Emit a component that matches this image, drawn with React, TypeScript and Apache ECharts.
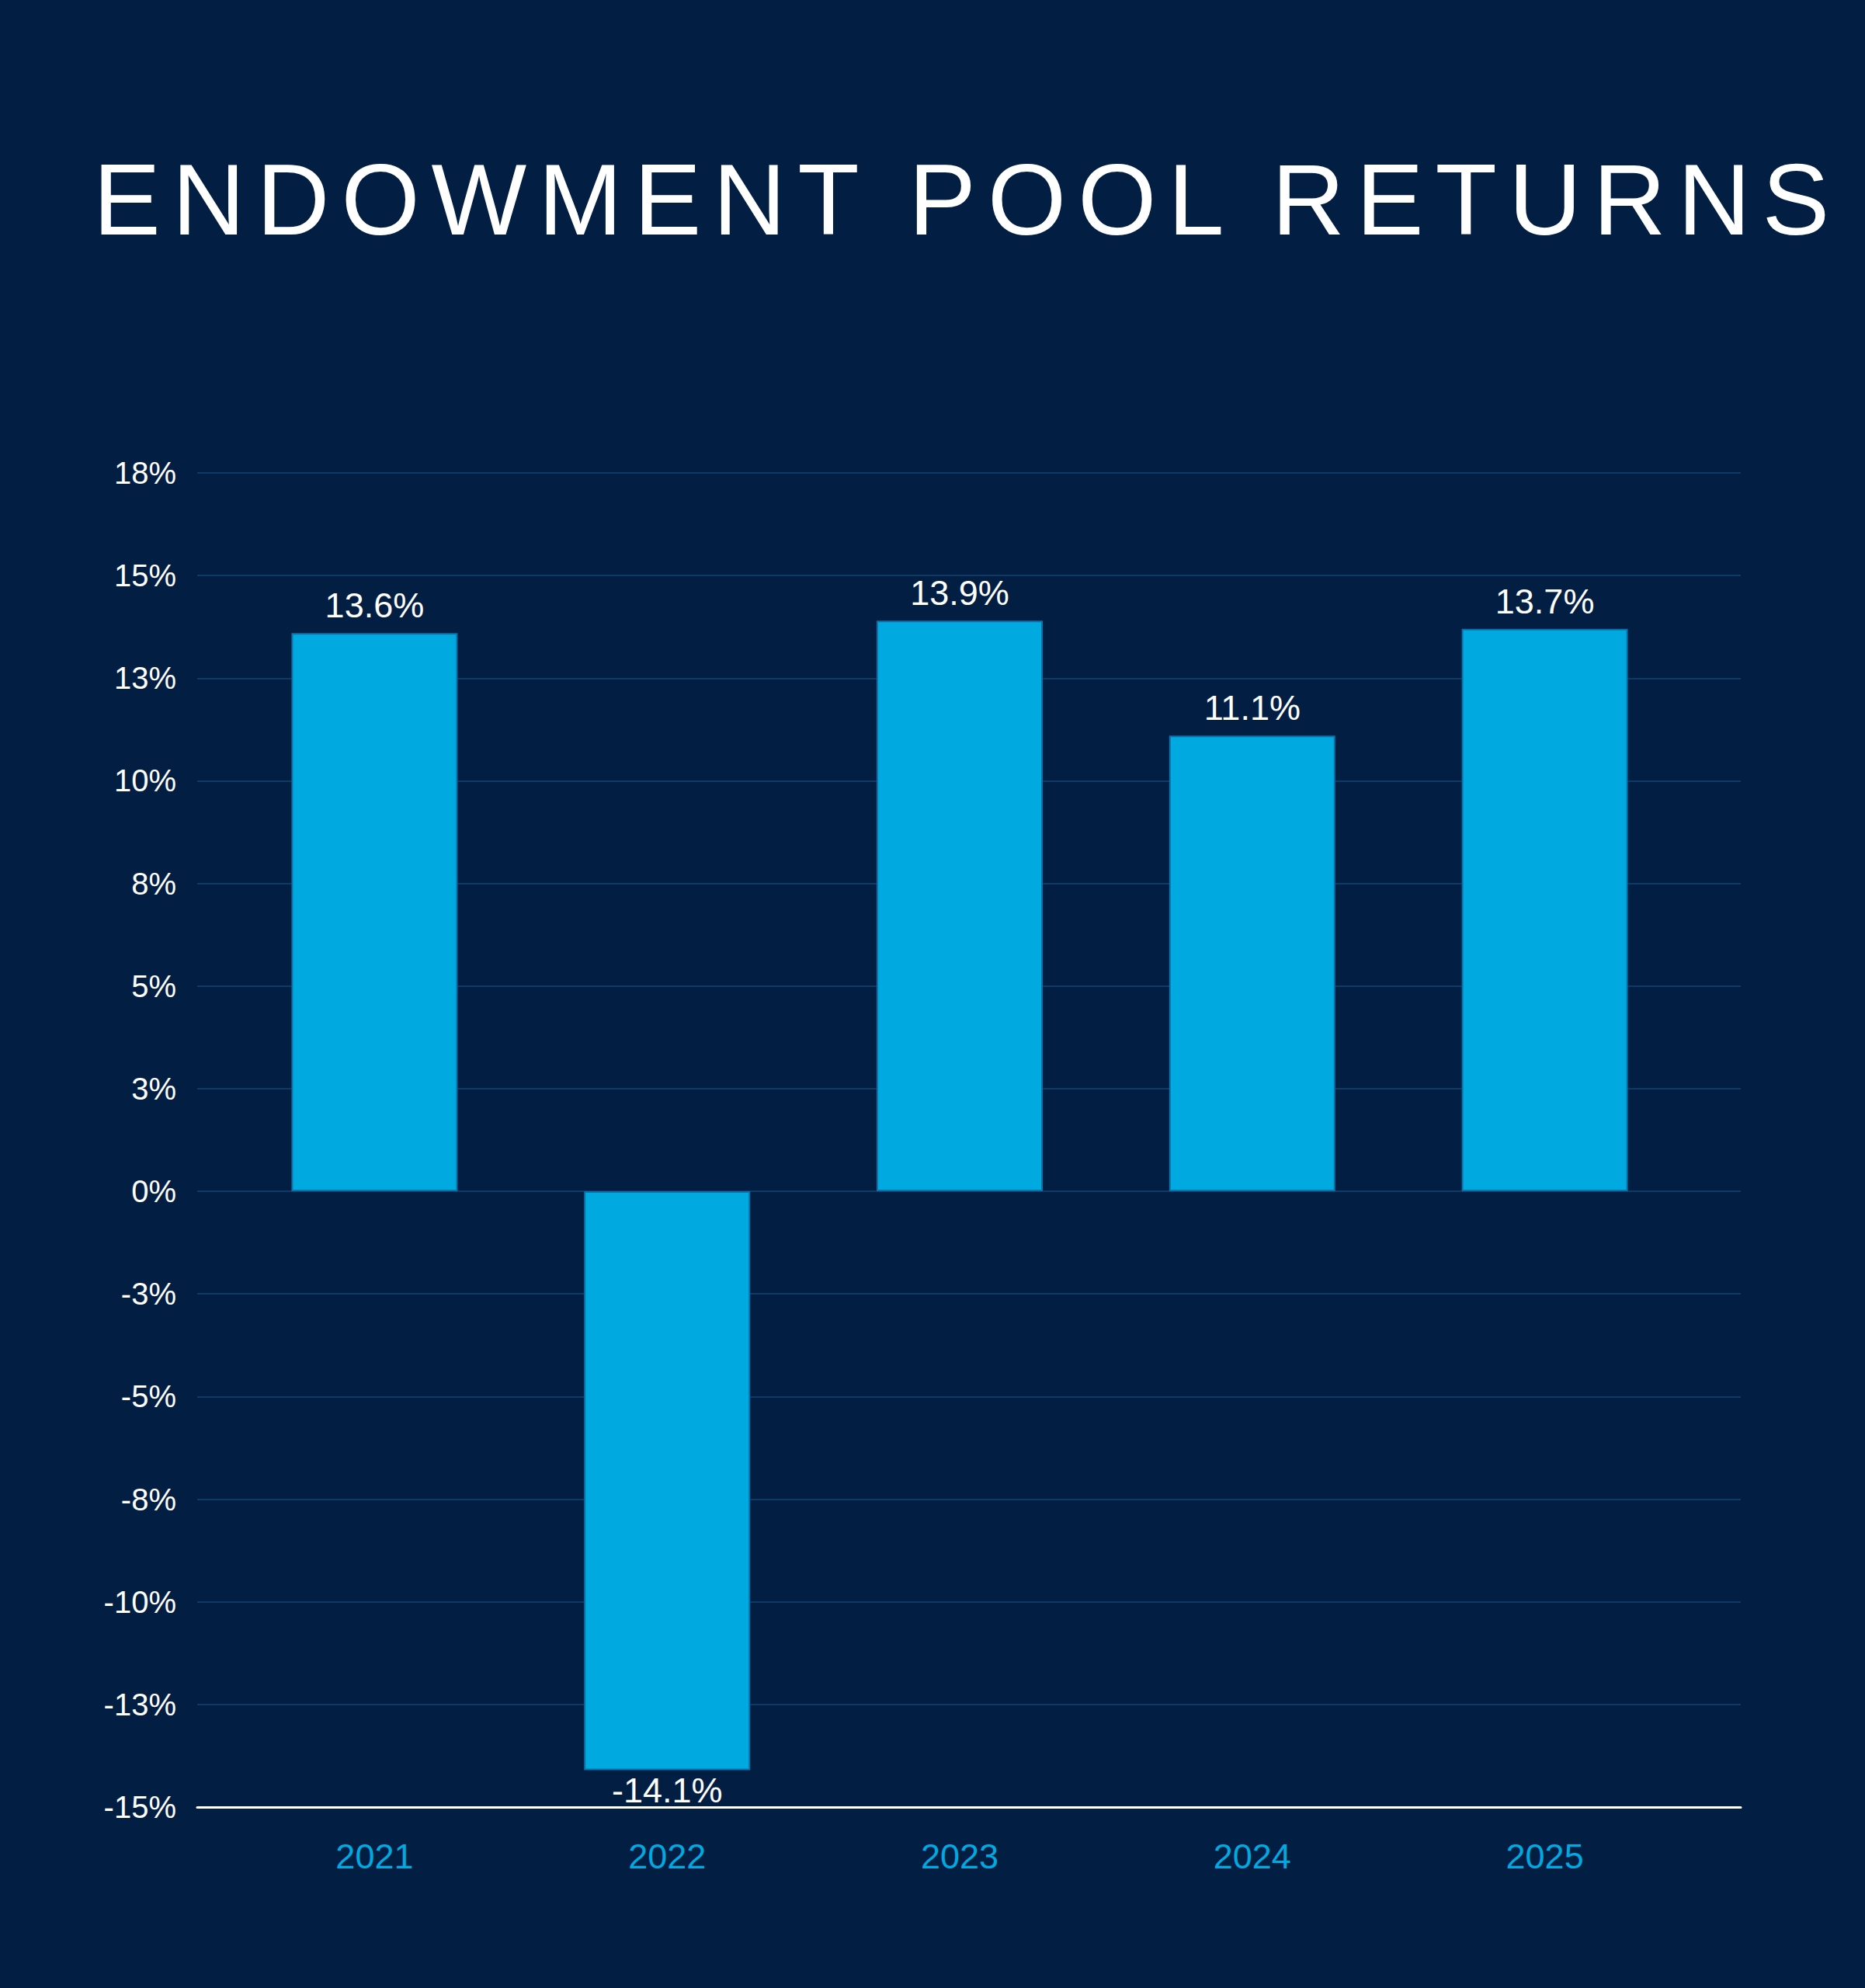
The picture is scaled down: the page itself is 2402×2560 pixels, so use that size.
import React, { useEffect, useRef } from "react";
import * as echarts from "echarts";

type EChartsOption = echarts.EChartsOption;

// Fiscal years and endowment pool returns (%)
const years = ["2021", "2022", "2023", "2024", "2025"];
const returns = [13.6, -14.1, 13.9, 11.1, 13.7];

// Value axis range, ticks every 2.5%
const axisMin = -15;
const axisMax = 17.5;
const axisStep = 2.5;

const NAVY = "#021E42";
const CYAN = "#00AAE0";
const GRID_LINE = "#0B3B66";
const FONT = "'Liberation Sans', Arial, Helvetica, sans-serif";

// tick labels are rounded half away from zero (2.5 -> 3, -2.5 -> -3)
const tickLabel = (v: number) => {
  const r = Math.sign(v) * Math.round(Math.abs(v));
  return `${r === 0 ? 0 : r}%`;
};

const ReturnsChart: React.FC = () => {
  const chartRef = useRef<HTMLDivElement>(null);

  useEffect(() => {
    if (!chartRef.current) return;
    const myChart = echarts.init(chartRef.current, undefined, { renderer: "svg" });

    const option: EChartsOption = {
      animation: false,
      backgroundColor: NAVY,
      textStyle: { fontFamily: FONT },
      grid: [
        // grid 0: gridlines, y labels and the white baseline
        { left: 254, right: 160, top: 609, bottom: 233 },
        // grid 1: the bars, a little narrower so the columns sit like the original
        { left: 294, right: 224, top: 609, bottom: 233 },
      ],
      xAxis: [
        {
          type: "value",
          gridIndex: 0,
          min: 0,
          max: 1,
          axisLabel: { show: false },
          axisTick: { show: false },
          splitLine: { show: false },
          axisLine: {
            show: true,
            onZero: false,
            lineStyle: { color: "#FFFFFF", width: 3 },
          },
        },
        {
          type: "category",
          gridIndex: 1,
          data: years,
          axisLine: { show: false },
          axisTick: { show: false },
          axisLabel: {
            color: CYAN,
            fontSize: 45,
            margin: 41,
          },
        },
      ],
      yAxis: [
        {
          type: "value",
          gridIndex: 0,
          min: axisMin,
          max: axisMax,
          interval: axisStep,
          axisLine: { show: false },
          axisTick: { show: false },
          axisLabel: {
            color: "#FFFFFF",
            fontSize: 40,
            margin: 27,
            formatter: (v: number) => tickLabel(v),
          },
          splitLine: { lineStyle: { color: GRID_LINE, width: 2 } },
        },
        {
          type: "value",
          gridIndex: 1,
          min: axisMin,
          max: axisMax,
          interval: axisStep,
          show: false,
          splitLine: { show: false },
        },
      ],
      series: [
        {
          type: "bar",
          xAxisIndex: 1,
          yAxisIndex: 1,
          barWidth: 214,
          data: returns.map((v) =>
            v < 0
              ? { value: v, label: { position: "bottom", distance: 4 } }
              : v
          ),
          itemStyle: {
            color: CYAN,
            borderColor: "#0B72AA",
            borderWidth: 2,
          },
          label: {
            show: true,
            position: "top",
            distance: 13,
            color: "#FFFFFF",
            fontSize: 45,
            formatter: (p: any) => `${Number(p.value).toFixed(1)}%`,
          },
        },
      ],
    };

    myChart.setOption(option);

    return () => {
      myChart.dispose();
    };
  }, []);

  return <div ref={chartRef} style={{ position: "absolute", left: 0, top: 0, width: "2402px", height: "2560px" }} />;
};

const App: React.FC = () => {
  return (
    <div
      style={{
        position: "fixed",
        left: 0,
        top: 0,
        width: "2402px",
        height: "2560px",
        background: NAVY,
        overflow: "hidden",
      }}
    >
      <ReturnsChart />
      <div
        style={{
          position: "absolute",
          left: "120px",
          top: "192px",
          fontFamily: FONT,
          fontSize: "130px",
          lineHeight: "130px",
          letterSpacing: "15px",
          color: "#FFFFFF",
          whiteSpace: "nowrap",
        }}
      >
        ENDOWMENT POOL RETURNS
      </div>
    </div>
  );
};

export default App;
